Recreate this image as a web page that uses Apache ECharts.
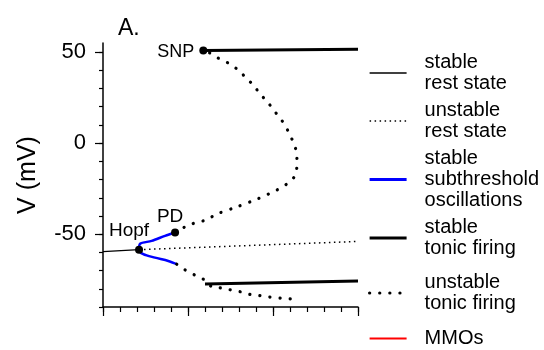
<!DOCTYPE html>
<html>
<head>
<meta charset="utf-8">
<script src="https://cdn.jsdelivr.net/npm/echarts@6/dist/echarts.min.js"></script>
<style>
  html, body { margin: 0; padding: 0; background: #fff; }
  #chart { width: 544px; height: 350px; }
</style>
</head>
<body>
<div id="chart"></div>
<script>
(function(){
    var myChart = echarts.init(document.getElementById('chart'));

    // branches of the bifurcation diagram, [x, V (mV)]
    var stableRest = [[0, -59.6], [2.12, -58.5]];
    var unstableRest = [[2.12, -58.5], [15, -54]];
    var subthreshold = [
        [4.24, -49.1], [3.65, -50.9], [2.86, -53.7], [2.18, -55.3], [2.12, -58.5],
        [2.37, -61.0], [3.06, -62.9], [3.84, -64.7], [4.34, -66.5]
    ];
    var tonicUpper = [[5.9, 50.9], [15, 51.6]];
    var tonicLower = [[6.0, -77.3], [15, -75.7]];
    var unstableTonicUpper = [
        [4.24, -49.1], [4.82, -46.0], [5.41, -43.8], [6.06, -42.2], [6.71, -38.9],
        [7.88, -35.0], [9.10, -30.6], [10.24, -25.7], [10.82, -22.4], [11.29, -18.0],
        [11.41, -11.4], [11.39, -5.4], [11.18, 0.7], [10.88, 6.8], [10.53, 12.3],
        [10.12, 17.2], [9.71, 22.2], [9.24, 27.1], [8.82, 32.1], [8.41, 35.9],
        [7.94, 40.3], [7.35, 44.1], [6.76, 46.8], [6.18, 50.1], [5.9, 50.9]
    ];
    var unstableTonicLower = [
        [4.34, -66.5], [4.82, -69.6], [5.41, -72.5], [6.0, -75.3], [6.39, -78.8],
        [6.78, -79.3], [7.28, -80.2], [8.02, -81.5], [8.59, -83.0], [9.18, -83.7],
        [9.78, -84.5], [10.51, -85.2], [11.19, -85.7]
    ];
    var mmos = [];
    var points = [
        { name: 'Hopf', value: [2.12, -58.5] },
        { name: 'PD', value: [4.24, -49.1] },
        { name: 'SNP', value: [5.9, 50.9] }
    ];

    var yMinorTicks = [-90, -80, -70, -60, -50, -40, -30, -20, -10, 0, 10, 20, 30, 40, 50];
    var yMajorTicks = [-50, 0, 50];
    var xMajorTicks = [0, 5, 10, 15];

    var font = 'Liberation Sans, Arial, sans-serif';
    var names = ['stable\nrest state', 'unstable\nrest state', 'stable\nsubthreshold\noscillations',
                 'stable\ntonic firing', 'unstable\ntonic firing', 'MMOs'];

    var styles = [
        { color: '#000', width: 1.3 },
        { color: '#000', width: 1.5, type: [1.5, 3.5] },
        { color: '#0000ff', width: 2.8 },
        { color: '#000', width: 3.2 },
        { color: '#000', width: 3.2, type: [0.1, 10], cap: 'round' },
        { color: '#ff0000', width: 2 }
    ];
    var legendItems = names.map(function (n, i) {
        return { name: n, lineStyle: styles[i] };
    });

    var legendText = { color: '#000', fontSize: 20, lineHeight: 21, fontFamily: font, padding: [0, 0, 0, 13] };

    var option = {
        animation: false,
        title: {
            text: 'A.', left: 113, top: 12,
            textStyle: { fontSize: 23, fontWeight: 'normal', color: '#000', fontFamily: font }
        },
        grid: { left: 103, right: 186, top: 43, bottom: 43 },
        legend: [{
            data: legendItems.slice(0, 4), orient: 'vertical', left: 368, top: 52, padding: 0,
            itemWidth: 37, itemHeight: 10, itemGap: 6, textStyle: legendText, selectedMode: false,
            itemStyle: { opacity: 0 }
        }, {
            data: legendItems.slice(4), orient: 'vertical', left: 368, top: 272, padding: 0,
            itemWidth: 37, itemHeight: 10, itemGap: 14, textStyle: legendText, selectedMode: false,
            itemStyle: { opacity: 0 }
        }],
        xAxis: [{
            type: 'value', min: 0, max: 15, interval: 1, position: 'bottom',
            axisLine: { onZero: false, lineStyle: { color: '#000', width: 1.5 } },
            axisTick: { show: true, length: 5, lineStyle: { color: '#000', width: 1.2 } },
            axisLabel: { show: false }, splitLine: { show: false }
        }, {
            type: 'value', min: 0, max: 15, interval: 5, position: 'bottom',
            axisLine: { show: false, onZero: false },
            axisTick: { show: true, length: 9, customValues: xMajorTicks, lineStyle: { color: '#000', width: 1.2 } },
            axisLabel: { show: false }, splitLine: { show: false }
        }],
        yAxis: [{
            type: 'value', min: -90, max: 55, interval: 10, position: 'left',
            name: 'V (mV)', nameLocation: 'middle', nameGap: 62,
            nameTextStyle: { fontSize: 25, color: '#000', fontFamily: font },
            axisLine: { show: true, onZero: false, lineStyle: { color: '#000', width: 1.5 } },
            axisTick: { show: true, length: 4, customValues: yMinorTicks, lineStyle: { color: '#000', width: 1.2 } },
            axisLabel: { customValues: yMajorTicks, margin: 17, fontSize: 22, color: '#000', fontFamily: font },
            splitLine: { show: false }
        }, {
            type: 'value', min: -90, max: 55, interval: 10, position: 'left',
            axisLine: { show: false, onZero: false },
            axisTick: { show: true, length: 8, customValues: yMajorTicks, lineStyle: { color: '#000', width: 1.2 } },
            axisLabel: { show: false }, splitLine: { show: false }
        }],
        series: [{
            name: names[0], type: 'line', symbol: 'none', data: stableRest,
            lineStyle: styles[0], itemStyle: { color: '#000' }
        }, {
            name: names[1], type: 'line', symbol: 'none', data: unstableRest,
            lineStyle: styles[1], itemStyle: { color: '#000' }
        }, {
            name: names[2], type: 'line', symbol: 'none', smooth: 0.3, data: subthreshold,
            lineStyle: { color: '#0000ff', width: 2.5 }, itemStyle: { color: '#0000ff' }
        }, {
            name: names[3], type: 'line', symbol: 'none', data: tonicUpper.concat([null], tonicLower),
            lineStyle: { color: '#000', width: 3 }, itemStyle: { color: '#000' }
        }, {
            name: names[4], type: 'line', symbol: 'none', smooth: 0.3,
            data: unstableTonicUpper.concat([null], unstableTonicLower),
            lineStyle: styles[4], itemStyle: { color: '#000' }
        }, {
            name: names[5], type: 'line', symbol: 'none', data: mmos,
            lineStyle: styles[5], itemStyle: { color: '#ff0000' }
        }, {
            type: 'scatter', symbolSize: 8, itemStyle: { color: '#000', opacity: 1 }, z: 5,
            data: points.map(function (p) {
                var lbl = { show: true, formatter: '{b}', color: '#000', fontSize: 19, fontFamily: font };
                if (p.name === 'Hopf') { lbl.position = 'top'; lbl.offset = [-10, 0]; }
                if (p.name === 'PD') { lbl.position = 'top'; lbl.offset = [-5, 3]; }
                if (p.name === 'SNP') { lbl.position = 'left'; lbl.offset = [0, 2]; lbl.fontSize = 18; }
                return { name: p.name, value: p.value, label: lbl };
            })
        }]
    };

    myChart.setOption(option);
})()
</script>
</body>
</html>
